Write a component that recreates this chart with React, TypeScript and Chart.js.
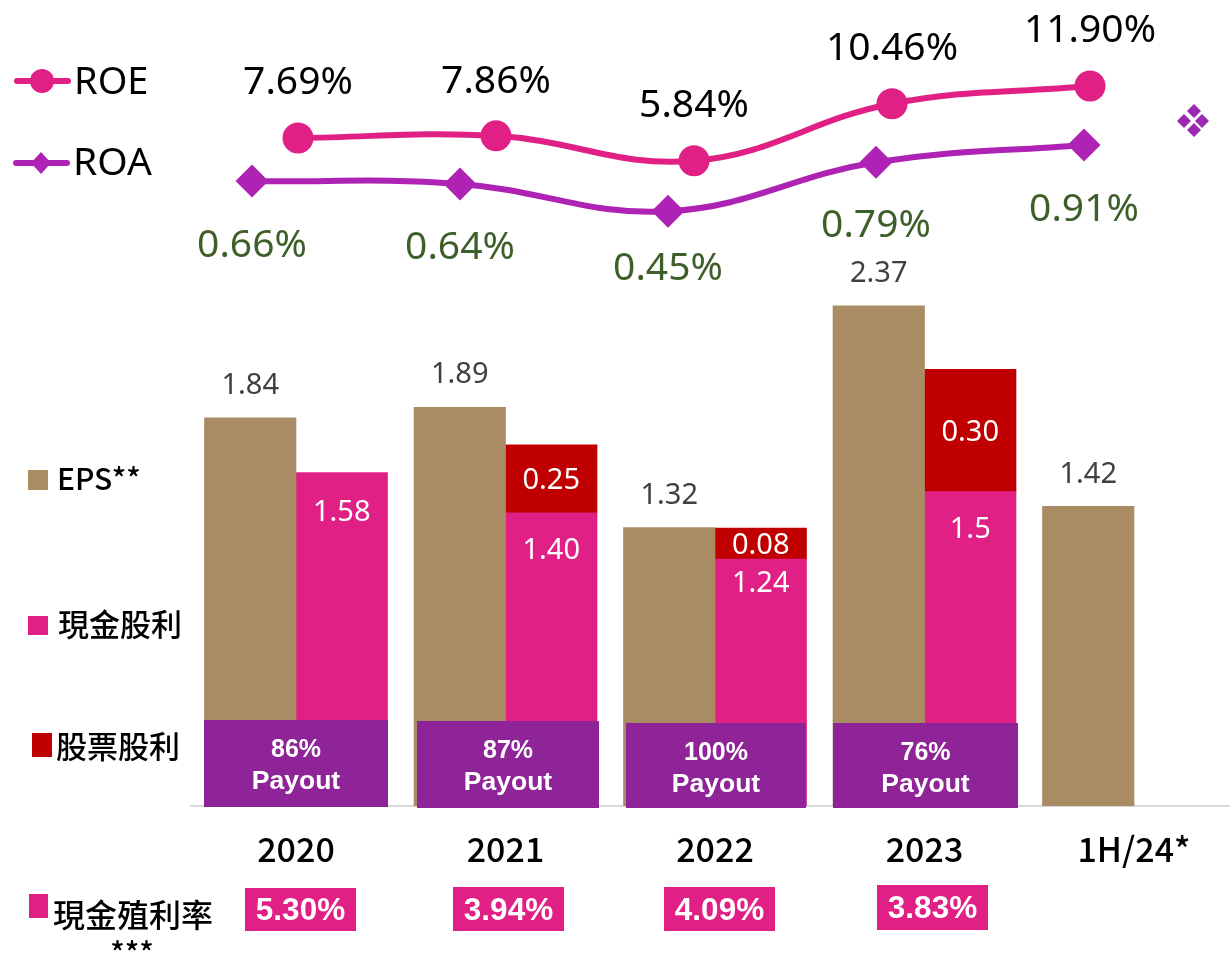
import React, { useEffect, useRef } from "react";
import { Chart, registerables } from "chart.js";

Chart.register(...registerables);

// ---- data ----
const categories = ["2020", "2021", "2022", "2023", "1H/24*"];
const roeValues = [7.69, 7.86, 5.84, 10.46, 11.9];
const roaValues = [0.66, 0.64, 0.45, 0.79, 0.91];
const epsValues = [1.84, 1.89, 1.32, 2.37, 1.42];
const cashDividends = [1.58, 1.39, 1.17, 1.49];
const cashLabels = ["1.58", "1.40", "1.24", "1.5"];
const stockDividends = [0.322, 0.147, 0.58];
const stockLabels = ["0.25", "0.08", "0.30"];
const stockYears = [1, 2, 3];
const payoutRatios = ["86%", "87%", "100%", "76%"];
const cashYields = ["5.30%", "3.94%", "4.09%", "3.83%"];

// ---- layout / style ----
const W = 1230;
const H = 953;
const AREA_LEFT = 191;
const AREA_BOTTOM = 806;
const PX_PER_EPS = 211;
const FONT = "'Noto Sans', sans-serif";
const CJK = "'Noto Sans CJK TC', sans-serif";
const ARIAL = "'Liberation Sans', Arial, sans-serif";
const PINK = "#E02085";
const VIOLET = "#AE22B4";
const TAN = "#A98C63";
const RED = "#C00000";
const PURPLE = "#8E2498";
const GREEN = "#3F5F2A";

const range = (origin: number, step: number) => ({
  min: (AREA_LEFT - origin) / step,
  max: (W - origin) / step,
  offset: false,
  grid: { display: false, offset: false },
});
const roeOffsets = [-55, -54, -55, -55, -55];
const roaOffsets = [65, 64, 58, 64, 65];
const cashOffsets = [40, 38, 25, 38];
const payoutBoxes = [
  [204, 720, 184, 87],
  [417, 721, 182, 87],
  [626, 723, 180, 85],
  [833, 723, 185, 85],
];
const yieldBoxes = [
  [245, 888, 111, 43],
  [453, 887, 111, 44],
  [664, 887, 111, 44],
  [877, 885, 111, 45],
];
const swatches: [string, number, number, number, number][] = [
  [TAN, 28, 470, 20, 20],
  [PINK, 28, 616, 20, 19],
  [RED, 32, 733, 20, 24],
  [PINK, 29, 894, 19, 24],
];
const legendTexts: [string, number, number, number][] = [
  ["EPS**", 57, 479, 30],
  ["現金股利", 58, 624, 31],
  ["股票股利", 56, 746, 31],
  ["現金殖利率", 53, 915, 32],
];

const text = (
  ctx: CanvasRenderingContext2D,
  s: string,
  x: number,
  y: number,
  font: string,
  color: string,
  align: CanvasTextAlign = "center",
) => {
  ctx.font = font;
  ctx.fillStyle = color;
  ctx.textAlign = align;
  ctx.textBaseline = "middle";
  ctx.fillText(s, x, y);
};

const diamond = (ctx: CanvasRenderingContext2D, x: number, y: number, rx: number, ry: number, color: string) => {
  ctx.fillStyle = color;
  ctx.beginPath();
  ctx.moveTo(x - rx, y);
  ctx.lineTo(x, y - ry);
  ctx.lineTo(x + rx, y);
  ctx.lineTo(x, y + ry);
  ctx.closePath();
  ctx.fill();
};

const lineOverlay = {
  id: "lineOverlay",
  afterDatasetsDraw(chart: any) {
    const ctx: CanvasRenderingContext2D = chart.ctx;
    ctx.save();
    const el = (d: number) => chart.getDatasetMeta(d).data;
    el(0).forEach((p: any, i: number) =>
      text(ctx, roeValues[i].toFixed(2) + "%", p.x, p.y + roeOffsets[i], `39px ${FONT}`, "#000"),
    );
    el(1).forEach((p: any, i: number) =>
      text(ctx, roaValues[i].toFixed(2) + "%", p.x, p.y + roaOffsets[i], `39px ${FONT}`, GREEN),
    );

    ctx.lineCap = "round";
    ctx.lineWidth = 6;
    ctx.strokeStyle = PINK;
    ctx.beginPath();
    ctx.moveTo(17, 81);
    ctx.lineTo(68, 81);
    ctx.stroke();
    ctx.fillStyle = PINK;
    ctx.beginPath();
    ctx.arc(42, 81, 12, 0, Math.PI * 2);
    ctx.fill();
    ctx.strokeStyle = VIOLET;
    ctx.beginPath();
    ctx.moveTo(16, 163);
    ctx.lineTo(67, 163);
    ctx.stroke();
    diamond(ctx, 41, 163, 10, 11, VIOLET);
    text(ctx, "ROE", 74, 83, `38px ${FONT}`, "#000", "left");
    text(ctx, "ROA", 73, 164, `39px ${FONT}`, "#000", "left");

    [
      [1194, 111],
      [1184, 121],
      [1202, 121],
      [1194, 130],
    ].forEach(([x, y]) => diamond(ctx, x, y, 7, 7, "#9C27B0"));
    ctx.restore();
  },
};

const barOverlay = {
  id: "barOverlay",
  afterDatasetsDraw(chart: any) {
    const ctx: CanvasRenderingContext2D = chart.ctx;
    ctx.save();
    const el = (d: number) => chart.getDatasetMeta(d).data;
    el(0).forEach((b: any, i: number) =>
      text(ctx, epsValues[i].toFixed(2), b.x, b.y - 32, `29px ${FONT}`, "#404040"),
    );
    el(1).forEach((b: any, i: number) =>
      text(ctx, cashLabels[i], b.x, b.y + cashOffsets[i], `29px ${FONT}`, "#fff"),
    );
    el(2).forEach((b: any, i: number) =>
      text(ctx, stockLabels[i], b.x, (b.y + b.base) / 2 + 2, `29px ${FONT}`, "#fff"),
    );

    payoutBoxes.forEach(([x, y, w, h], i) => {
      ctx.fillStyle = PURPLE;
      ctx.fillRect(x, y, w, h);
      text(ctx, payoutRatios[i], x + w / 2, y + 30, `bold 25px ${ARIAL}`, "#fff");
      text(ctx, "Payout", x + w / 2, y + 62, `bold 26.5px ${ARIAL}`, "#fff");
    });
    yieldBoxes.forEach(([x, y, w, h], i) => {
      ctx.fillStyle = PINK;
      ctx.fillRect(x, y, w, h);
      text(ctx, cashYields[i], x + w / 2, y + h / 2 + 2, `bold 31.5px ${ARIAL}`, "#fff");
    });

    swatches.forEach(([c, x, y, w, h]) => {
      ctx.fillStyle = c;
      ctx.fillRect(x, y, w, h);
    });
    legendTexts.forEach(([s, x, y, size]) => text(ctx, s, x, y, `500 ${size}px ${CJK}`, "#000", "left"));
    text(ctx, "***", 132, 953, `500 30px ${CJK}`, "#000");
    ctx.restore();
  },
};

const baseOptions = {
  responsive: false,
  animation: false,
  layout: { autoPadding: false, padding: { left: AREA_LEFT, right: 0, top: 0, bottom: 0 } },
  plugins: { legend: { display: false }, tooltip: { enabled: false } },
};

export default function App() {
  const barRef = useRef<HTMLCanvasElement>(null);
  const lineRef = useRef<HTMLCanvasElement>(null);
  useEffect(() => {
    const bars = new Chart(barRef.current!, {
      type: "bar",
      data: {
        datasets: [
          {
            label: "EPS**",
            data: epsValues.map((y, x) => ({ x, y })),
            backgroundColor: TAN,
            stack: "eps",
          },
          {
            label: "現金股利",
            data: cashDividends.map((y, x) => ({ x, y })),
            backgroundColor: PINK,
            stack: "dividend",
          },
          {
            label: "股票股利",
            data: stockDividends.map((y, i) => ({ x: stockYears[i], y })),
            backgroundColor: RED,
            stack: "dividend",
          },
        ] as any,
      },
      options: {
        ...baseOptions,
        datasets: { bar: { barThickness: 91.5 } },
        scales: {
          x: {
            type: "linear",
            stacked: true,
            ...range(296, 209.5),
            border: { display: true, color: "#D9D9D9", width: 2 },
            afterFit: (s: any) => {
              s.height = H - AREA_BOTTOM;
            },
            afterBuildTicks: (s: any) => {
              s.ticks = categories.map((_, i) => ({ value: i }));
            },
            ticks: {
              autoSkip: false,
              maxRotation: 0,
              padding: 15,
              color: "#000",
              font: { family: "'Noto Sans CJK TC', sans-serif", size: 34, weight: 500 },
              callback: (v: any) => categories[v],
            },
          },
          y: {
            display: false,
            stacked: true,
            min: 0,
            max: AREA_BOTTOM / PX_PER_EPS,
          },
        },
      } as any,
      plugins: [barOverlay],
    });
    const lines = new Chart(lineRef.current!, {
      type: "line",
      data: {
        datasets: [
          {
            label: "ROE",
            data: roeValues.map((y, x) => ({ x, y })),
            xAxisID: "xRoe",
            yAxisID: "yRoe",
            borderColor: PINK,
            backgroundColor: PINK,
            borderWidth: 6,
            tension: 0.4,
            pointStyle: "circle",
            pointRadius: 15.5,
            pointBorderWidth: 0,
          },
          {
            label: "ROA",
            data: roaValues.map((y, x) => ({ x, y })),
            xAxisID: "xRoa",
            yAxisID: "yRoa",
            borderColor: VIOLET,
            backgroundColor: VIOLET,
            borderWidth: 6,
            tension: 0.4,
            pointStyle: "rectRot",
            pointRadius: 16.5,
            pointBorderWidth: 0,
          },
        ] as any,
      },
      options: {
        ...baseOptions,
        layout: { autoPadding: false, padding: { left: AREA_LEFT, right: 0, top: 0, bottom: H - AREA_BOTTOM } },
        scales: {
          xRoe: { type: "linear", display: false, ...range(298, 198) },
          xRoa: { type: "linear", display: false, ...range(252, 208) },
          yRoe: { type: "linear", display: false, min: -46.4, max: 18.86 },
          yRoa: { type: "linear", display: false, min: -3.68, max: 1.917 },
        },
      } as any,
      plugins: [lineOverlay],
    });
    return () => {
      lines.destroy();
      bars.destroy();
    };
  }, []);
  const layer = { position: "absolute", left: 0, top: 0, display: "block" } as const;
  return (
    <div style={{ position: "fixed", left: 0, top: 0, width: W, height: H, background: "#fff" }}>
      <canvas ref={barRef} width={W} height={H} style={layer} />
      <canvas ref={lineRef} width={W} height={H} style={layer} />
    </div>
  );
}
